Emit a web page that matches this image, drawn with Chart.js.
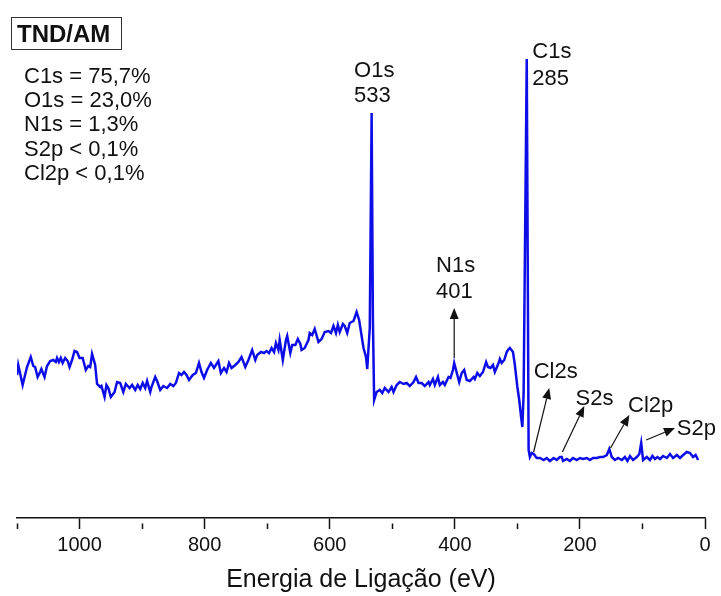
<!DOCTYPE html>
<html>
<head>
<meta charset="utf-8">
<script src="https://cdn.jsdelivr.net/npm/chart.js@4.4.1/dist/chart.umd.min.js"></script>
<style>
  html, body { margin: 0; padding: 0; background: #ffffff; }
  #wrap { width: 721px; height: 596px; }
</style>
</head>
<body>
<div id="wrap"><canvas id="xps" width="721" height="596"></canvas></div>
<script>
// XPS survey spectrum, sample TND/AM
// Binding energy (eV), high to low
const bindingEnergy = [
  1100,1098,1091,1084,1078,1074,1071,1067,1063,1061,
  1056,1052,1047,1042,1038,1036,1033,1030,1027,1023,
  1019,1016,1012,1008,1004,1000,995,990,986,983,
  980,975,972,967,965,960,957,954,950,944,
  940,935,930,926,920,916,911,907,903,899,
  895,892,887,885,879,876,871,866,860,855,
  850,846,841,837,833,829,825,819,814,809,
  805,801,796,790,785,778,774,769,765,761,
  757,751,746,741,735,730,724,719,716,710,
  705,701,697,693,689,686,682,680,675,670,
  668,663,660,655,651,647,645,640,634,632,
  628,624,618,613,608,602,598,594,590,587,
  584,579,576,572,568,562,557,553,546,542,
  540,536,533,531,529,525,520,516,512,506,
  501,498,493,488,482,477,472,466,462,458,
  453,448,442,440,435,432,427,424,419,416,
  410,407,403,401,396,393,389,385,381,376,
  370,368,364,360,355,350,347,343,339,336,
  330,328,325,321,317,315,312,307,304,300,
  297,294,292,290,285,282,280,277,274,269,
  264,258,253,248,242,237,232,229,227,221,
  216,211,205,200,195,189,184,179,173,168,
  163,157,153,149,144,139,133,128,124,120,
  115,109,105,102,99,93,88,84,80,76,
  72,67,61,56,51,45,40,35,29,24,
  19,15,11
];
// Intensity (arbitrary units)
const intensity = [
  143,153,133,151,161,152,151,141,146,149,
  141,152,157,158,156,160,156,160,155,160,
  157,151,158,167,166,160,160,148,152,151,
  164,153,134,131,132,121,133,130,121,126,
  136,135,126,134,130,133,128,133,129,135,
  130,137,126,131,141,137,128,132,130,134,
  132,135,145,143,146,143,138,143,145,155,
  146,140,148,155,150,157,145,150,146,155,
  150,153,156,161,151,158,168,158,163,166,
  165,167,165,170,166,175,168,178,158,178,
  182,165,173,173,179,174,168,170,178,185,
  183,189,176,179,186,187,185,192,185,193,
  186,194,192,185,195,197,206,198,170,161,
  149,190,405,200,118,126,128,125,130,126,
  131,126,133,136,134,135,132,136,141,135,
  135,132,136,133,139,133,141,133,136,133,
  141,140,148,155,143,136,145,148,138,137,
  141,139,145,142,146,156,151,150,153,146,
  155,159,155,158,166,168,170,166,153,131,
  118,101,91,125,459,68,61,65,64,60,
  60,58,60,57,60,58,61,61,57,59,
  57,60,58,60,59,60,58,60,60,61,
  61,63,69,61,58,60,58,61,57,62,
  58,61,64,75,58,61,58,62,59,61,
  59,62,60,64,60,63,60,63,66,65,
  61,63,58
];
// Axis tick values (eV)
const tickValues = [1100,1000,900,800,700,600,500,400,300,200,100,0];
const labelledTicks = [1000,800,600,400,200,0];

// Peak assignments: name, binding energy
const peakNames = ['O1s', 'C1s', 'N1s'];
const peakEnergies = [533, 285, 401];
// Minor species pointed to with arrows
const traceNames = ['Cl2s', 'S2s', 'Cl2p', 'S2p'];

// Surface composition
const compositionLines = ['C1s = 75,7%', 'O1s = 23,0%', 'N1s = 1,3%', 'S2p < 0,1%', 'Cl2p < 0,1%'];
const sampleName = 'TND/AM';

const FONT = '"Liberation Sans", Arial, Helvetica, sans-serif';
const INK = '#111111';

// label placement in data coordinates (energy, intensity) for the text baseline
const peakLabelPos = [
  { e: 561, top: 441, bottom: 416 },   // O1s
  { e: 276, top: 460, bottom: 433 },   // C1s
  { e: 430, top: 246, bottom: 220 }    // N1s
];
const traceLabelPos = [
  { e: 274, i: 140 }, { e: 207, i: 113 }, { e: 123, i: 106 }, { e: 45, i: 83 }
];
// arrows: tail (energy, intensity) -> head
const arrows = [
  { e0: 401, i0: 160, e1: 401, i1: 210 },
  { e0: 274, i0: 66, e1: 249, i1: 130 },
  { e0: 228, i0: 66, e1: 193, i1: 112 },
  { e0: 151, i0: 70, e1: 121, i1: 103 },
  { e0: 94, i0: 78, e1: 48, i1: 90 }
];

function drawArrow(ctx, x0, y0, x1, y1) {
  const ang = Math.atan2(y1 - y0, x1 - x0);
  const len = 11, half = 4.5;
  const bx = x1 - len * Math.cos(ang), by = y1 - len * Math.sin(ang);
  ctx.beginPath();
  ctx.moveTo(x0, y0);
  ctx.lineTo(bx, by);
  ctx.stroke();
  ctx.beginPath();
  ctx.moveTo(x1, y1);
  ctx.lineTo(bx + half * Math.sin(ang), by - half * Math.cos(ang));
  ctx.lineTo(bx - half * Math.sin(ang), by + half * Math.cos(ang));
  ctx.closePath();
  ctx.fill();
}

const notesPlugin = {
  id: 'spectrumNotes',
  afterDatasetsDraw(chart) {
    const { ctx, scales: { x, y } } = chart;
    ctx.save();
    ctx.fillStyle = INK;
    ctx.strokeStyle = INK;
    ctx.textAlign = 'left';
    ctx.textBaseline = 'alphabetic';

    // sample name in a box
    ctx.font = 'bold 24px ' + FONT;
    ctx.fillText(sampleName, 17, 42);
    ctx.lineWidth = 1;
    ctx.strokeStyle = '#333333';
    ctx.strokeRect(11.5, 17.5, 110, 32);
    ctx.strokeStyle = INK;

    // composition
    ctx.font = '22px ' + FONT;
    compositionLines.forEach((t, k) => ctx.fillText(t, 24, 83 + k * 24.2));

    // main peak labels
    peakNames.forEach((name, k) => {
      const p = peakLabelPos[k];
      const px = x.getPixelForValue(p.e);
      ctx.fillText(name, px, y.getPixelForValue(p.top));
      ctx.fillText(String(peakEnergies[k]), px, y.getPixelForValue(p.bottom));
    });

    // trace species labels
    traceNames.forEach((name, k) => {
      const p = traceLabelPos[k];
      ctx.fillText(name, x.getPixelForValue(p.e), y.getPixelForValue(p.i));
    });

    // arrows
    ctx.lineWidth = 1.2;
    arrows.forEach(a => drawArrow(ctx,
      x.getPixelForValue(a.e0), y.getPixelForValue(a.i0),
      x.getPixelForValue(a.e1), y.getPixelForValue(a.i1)));
    ctx.restore();
  }
};

new Chart(document.getElementById('xps'), {
  type: 'line',
  data: {
    datasets: [{
      data: bindingEnergy.map((e, k) => ({ x: e, y: intensity[k] })),
      borderColor: '#0d0de8',
      borderWidth: 2.5,
      pointRadius: 0,
      tension: 0,
      fill: false
    }]
  },
  options: {
    responsive: false,
    animation: false,
    devicePixelRatio: 1,
    layout: { padding: { top: 10, left: 17, right: 16, bottom: 0 } },
    plugins: { legend: { display: false }, tooltip: { enabled: false } },
    scales: {
      x: {
        type: 'linear',
        reverse: true,
        min: 0,
        max: 1100,
        afterBuildTicks: (scale) => { scale.ticks = tickValues.map(v => ({ value: v })); },
        ticks: {
          autoSkip: false,
          maxRotation: 0,
          padding: 4,
          color: INK,
          font: { family: FONT, size: 20 },
          callback: (v) => labelledTicks.includes(v) ? String(v) : ''
        },
        grid: {
          display: true,
          drawOnChartArea: false,
          drawTicks: true,
          tickLength: 11,
          tickWidth: 1.5,
          tickColor: INK,
          // unlabelled ticks are drawn half length next to the axis line
          tickBorderDash: (c) => (c.tick && labelledTicks.includes(c.tick.value)) ? [] : [0, 5, 6, 100]
        },
        border: { display: true, color: INK, width: 1.5 },
        title: {
          display: true,
          text: 'Energia de Ligação (eV)',
          color: INK,
          font: { family: FONT, size: 25 },
          padding: { top: 4, bottom: 1 }
        }
      },
      y: {
        display: false,
        min: 0,
        max: 508
      }
    }
  },
  plugins: [notesPlugin]
});
</script>
</body>
</html>
